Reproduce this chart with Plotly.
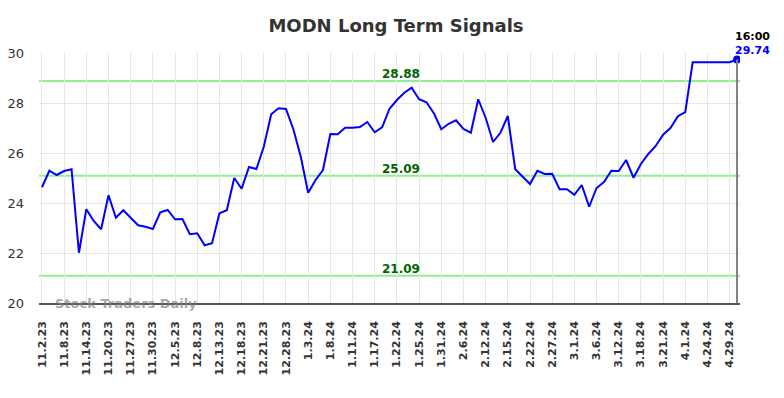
import plotly.graph_objects as go

title = "MODN Long Term Signals"
tick_labels = ["11.2.23", "11.8.23", "11.14.23", "11.20.23", "11.27.23", "11.30.23",
               "12.5.23", "12.8.23", "12.13.23", "12.18.23", "12.21.23", "12.28.23",
               "1.3.24", "1.8.24", "1.11.24", "1.17.24", "1.22.24", "1.25.24",
               "1.31.24", "2.6.24", "2.12.24", "2.15.24", "2.22.24", "2.27.24",
               "3.1.24", "3.6.24", "3.12.24", "3.18.24", "3.21.24", "4.1.24",
               "4.24.24", "4.29.24"]
tick_step = 3
prices = [24.63, 25.29, 25.12, 25.28, 25.35, 22.01, 23.75, 23.28, 22.95, 24.31,
          23.41, 23.71, 23.41, 23.11, 23.05, 22.96, 23.63, 23.72, 23.35, 23.36,
          22.75, 22.79, 22.31, 22.39, 23.59, 23.71, 25.00, 24.57, 25.44, 25.36,
          26.25, 27.55, 27.79, 27.76, 26.95, 25.85, 24.41, 24.92, 25.32, 26.76,
          26.75, 27.01, 27.01, 27.04, 27.24, 26.83, 27.03, 27.77, 28.12, 28.41,
          28.61, 28.15, 28.03, 27.59, 26.95, 27.17, 27.31, 26.96, 26.81, 28.15,
          27.41, 26.44, 26.81, 27.48, 25.35, 25.05, 24.76, 25.29, 25.16, 25.17,
          24.55, 24.55, 24.33, 24.72, 23.85, 24.60, 24.84, 25.29, 25.28, 25.72,
          25.01, 25.56, 25.96, 26.28, 26.73, 27.00, 27.47, 27.64, 29.63, 29.63,
          29.63, 29.60, 29.61, 29.63, 29.74]
signal_levels = [28.88, 25.09, 21.09]
last_time = "16:00"
watermark = "Stock Traders Daily"

x = list(range(len(prices)))
n = len(prices)
last = n - 1

fig = go.Figure()
fig.add_trace(go.Scatter(x=x, y=prices, mode="lines",
                         line=dict(color="#0000ff", width=2), hoverinfo="skip",
                         showlegend=False))
fig.add_trace(go.Scatter(x=[last], y=[prices[-1]], mode="markers",
                         marker=dict(color="#0000ff", size=8), showlegend=False))

for lv in signal_levels:
    fig.add_shape(type="line", xref="paper", x0=0, x1=1, y0=lv, y1=lv,
                  line=dict(color="#90ee90", width=2), layer="below")
    fig.add_annotation(x=48.5, y=lv, text=f"<b>{lv:.2f}</b>", showarrow=False,
                       yanchor="bottom", yshift=-2,
                       font=dict(family="DejaVu Sans", size=12, color="#006400"))

fig.add_shape(type="line", x0=last, x1=last, y0=20, y1=prices[-1],
              line=dict(color="#808080", width=2))
fig.add_annotation(x=last, y=1, yref="paper", text=f"<b>{last_time}</b>",
                   showarrow=False, xanchor="left", xshift=-4, yanchor="bottom", yshift=8,
                   font=dict(family="DejaVu Sans", size=11, color="#000000"))
fig.add_annotation(x=last, y=1, yref="paper", text=f"<b>{prices[-1]:.2f}</b>",
                   showarrow=False, xanchor="left", xshift=-4, yanchor="bottom", yshift=-6,
                   font=dict(family="DejaVu Sans", size=11, color="#0000ff"))
fig.add_annotation(x=0.02, y=0, xref="paper", yref="paper", text=f"<b>{watermark}</b>",
                   showarrow=False, xanchor="left", yanchor="middle",
                   font=dict(family="DejaVu Sans", size=13, color="rgba(128,128,128,0.7)"))

tickvals = [i * tick_step for i in range(len(tick_labels))]
fig.update_layout(
    width=776, height=390,
    margin=dict(l=31, r=44, t=45, b=95),
    paper_bgcolor="white", plot_bgcolor="white",
    title=dict(text=f"<b>{title}</b>", x=0.5, xanchor="center", y=0.955, yanchor="middle",
               font=dict(family="DejaVu Sans", size=18, color="#333333")),
    xaxis=dict(range=[-0.4, 94.4], tickmode="array", tickvals=tickvals,
               ticktext=[f"<b>{t}</b>" for t in tick_labels], tickangle=-90,
               showgrid=True, gridcolor="#e6e6e6", gridwidth=1,
               showline=True, linecolor="#555555", linewidth=1.5,
               ticks="", zeroline=False, ticklabelstandoff=12, automargin=False,
               tickfont=dict(family="DejaVu Sans", size=11, color="#333333")),
    yaxis=dict(range=[20, 30], tickvals=[20, 22, 24, 26, 28, 30],
               showgrid=True, gridcolor="#e6e6e6", gridwidth=1,
               zeroline=False, showline=False, ticks="", ticklabelstandoff=14,
               automargin=False,
               tickfont=dict(family="DejaVu Sans", size=13, color="#333333")),
)

fig.write_html("out.html")
